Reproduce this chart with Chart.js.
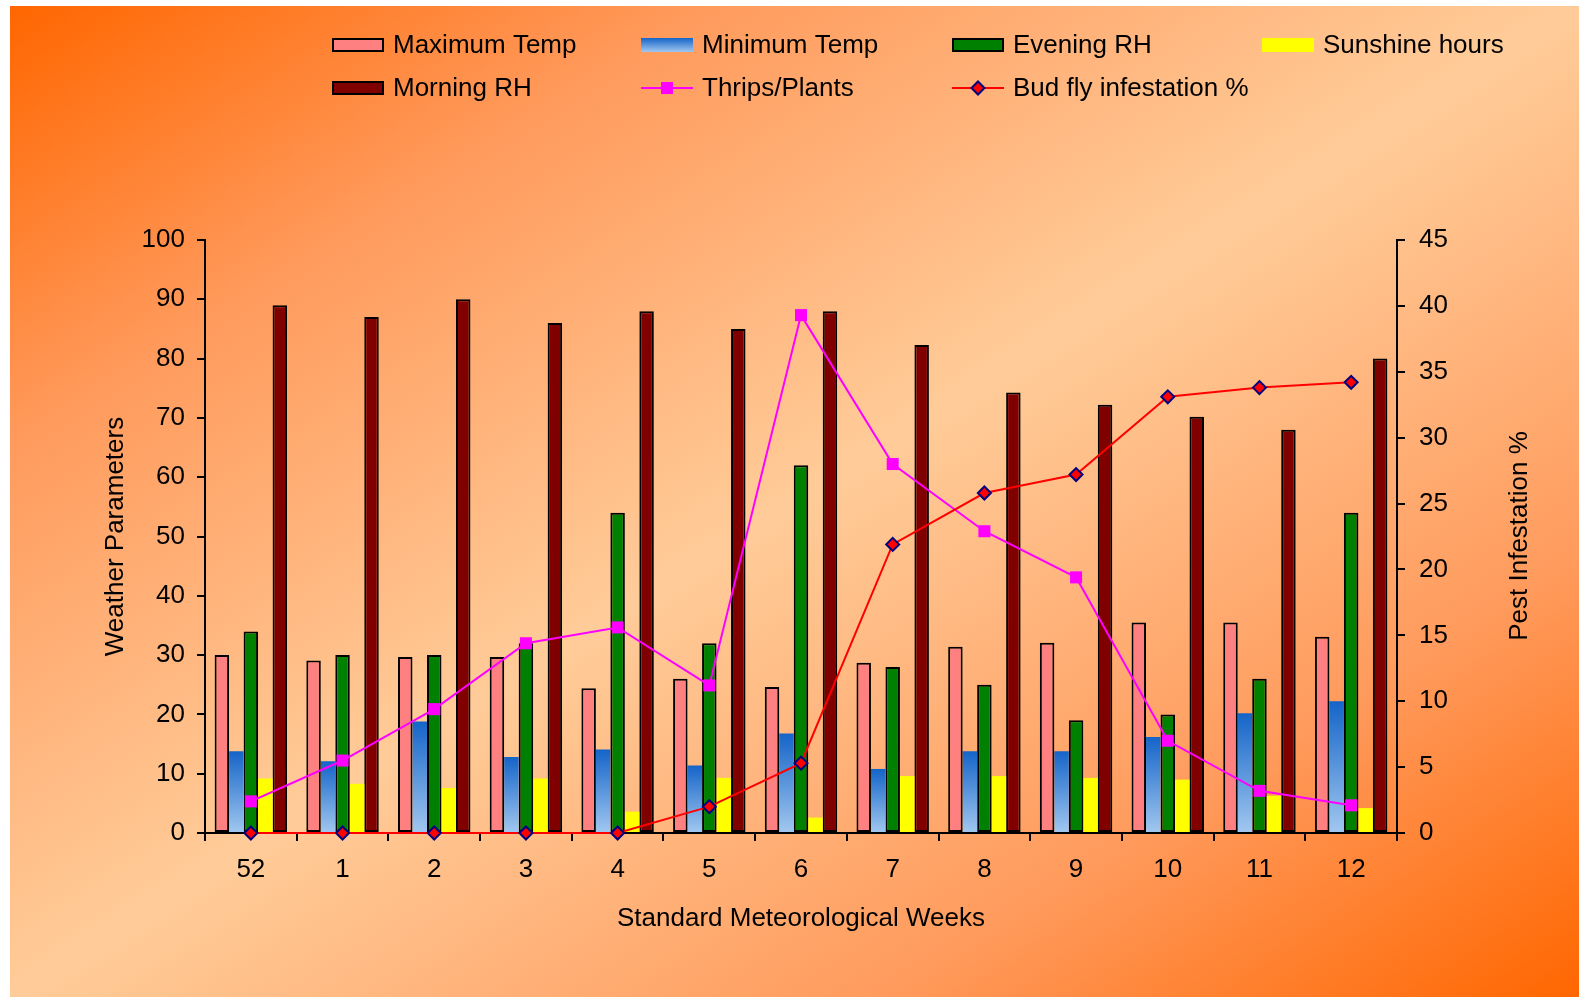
<!DOCTYPE html>
<html>
<head>
<meta charset="utf-8">
<script src="https://cdn.jsdelivr.net/npm/chart.js@4/dist/chart.umd.min.js"></script>
<style>
  html, body { margin: 0; padding: 0; background: #ffffff; }
  #wrap { position: relative; width: 1579px; height: 997px; }
</style>
</head>
<body>
<div id="wrap"><canvas id="c" width="1579" height="997"></canvas></div>
<script>
// Standard meteorological weeks
const weeks = ['52', '1', '2', '3', '4', '5', '6', '7', '8', '9', '10', '11', '12'];

// Weather parameters (left axis)
const maxTemp   = [30.0, 29.1, 29.7, 29.7, 24.4, 26.0, 24.6, 28.7, 31.4, 32.1, 35.5, 35.5, 33.1];
const minTemp   = [13.8, 12.1, 18.8, 12.8, 14.1, 11.4, 16.8, 10.8, 13.8, 13.8, 16.2, 20.2, 22.2];
const eveningRH = [34, 30, 30, 32, 54, 32, 62, 28, 25, 19, 20, 26, 54];
const sunshine  = [9.2, 8.3, 7.6, 9.2, 3.6, 9.3, 2.6, 9.6, 9.6, 9.3, 9.0, 6.3, 4.2];
const morningRH = [89, 87, 90, 86, 88, 85, 88, 82.3, 74.3, 72.2, 70.2, 68, 80];

// Pest infestation (right axis)
const thrips = [2.4, 5.5, 9.4, 14.4, 15.6, 11.2, 39.3, 28.0, 22.9, 19.4, 7.0, 3.2, 2.1];
const budFly = [0, 0, 0, 0, 0, 2.0, 5.3, 21.9, 25.8, 27.2, 33.1, 33.8, 34.2];

// Axis tick settings
const leftTicks  = { min: 0, max: 100, step: 10 };
const rightTicks = { min: 0, max: 45, step: 5 };

const FONT = '"Liberation Sans", Arial, sans-serif';
const FSIZE = 26;
const BLUE_TOP = '#1464c8';
const BLUE_BOTTOM = '#a2c8f0';

// vertical blue gradient for each minimum-temperature bar
function blueBar(ctx) {
  const chart = ctx.chart;
  if (!chart.chartArea || ctx.type !== 'data') return BLUE_TOP;
  const ys = chart.scales.y;
  const top = ys.getPixelForValue(ctx.raw);
  const bottom = ys.getPixelForValue(0);
  if (!isFinite(top) || bottom - top < 1) return BLUE_TOP;
  const g = chart.ctx.createLinearGradient(0, top, 0, bottom);
  g.addColorStop(0, BLUE_TOP);
  g.addColorStop(1, BLUE_BOTTOM);
  return g;
}

// page background: diagonal orange / peach fill
const backdrop = {
  id: 'backdrop',
  beforeDraw(chart) {
    const c = chart.ctx;
    const x0 = 10, y0 = 6, W = 1569, H = 991;
    const k = 2 * W * H / (W * W + H * H);
    const g = c.createLinearGradient(x0, y0, x0 + H * k, y0 + W * k);
    g.addColorStop(0, '#ff6600');
    g.addColorStop(0.22, '#ff9a5c');
    g.addColorStop(0.5, '#ffcc99');
    g.addColorStop(0.78, '#ff9a5c');
    g.addColorStop(1, '#ff6600');
    c.save();
    c.fillStyle = g;
    c.fillRect(x0, y0, W, H);
    c.restore();
  }
};

// legend in four aligned columns, right axis title
const sideText = {
  id: 'sideText',
  afterDraw(chart) {
    const c = chart.ctx;
    const ds = chart.data.datasets;
    const colX = [332, 641, 952, 1262];
    const rowY = [45, 88];
    c.save();
    c.font = FSIZE + 'px ' + FONT;
    c.textBaseline = 'middle';
    c.textAlign = 'left';
    ds.forEach((d, i) => {
      const x = colX[i % 4];
      const y = rowY[Math.floor(i / 4)];
      if (d.type === 'line') {
        c.strokeStyle = d.borderColor;
        c.lineWidth = 2;
        c.beginPath();
        c.moveTo(x, y); c.lineTo(x + 52, y);
        c.stroke();
        c.fillStyle = d.pointBackgroundColor;
        c.strokeStyle = d.pointBorderColor;
        c.lineWidth = d.pointBorderWidth;
        c.beginPath();
        if (d.pointStyle === 'rect') {
          const s = Math.SQRT1_2 * d.pointRadius;
          c.rect(x + 26 - s, y - s, 2 * s, 2 * s);
          c.fill();
        } else {
          const r = d.pointRadius;
          c.moveTo(x + 26, y - r); c.lineTo(x + 26 + r, y);
          c.lineTo(x + 26, y + r); c.lineTo(x + 26 - r, y);
          c.closePath();
          c.fill(); c.stroke();
        }
      } else {
        if (d.label === 'Minimum Temp') {
          const g = c.createLinearGradient(0, y - 7, 0, y + 7);
          g.addColorStop(0, BLUE_TOP); g.addColorStop(1, BLUE_BOTTOM);
          c.fillStyle = g;
        } else {
          c.fillStyle = d.backgroundColor;
        }
        c.fillRect(x, y - 7, 52, 14);
        if (d.borderWidth) {
          c.strokeStyle = '#000';
          c.lineWidth = 2;
          c.strokeRect(x + 1, y - 6, 50, 12);
        }
      }
      c.fillStyle = '#000';
      c.fillText(d.label, x + 61, y + 1);
    });
    // right axis title
    c.translate(1520, 536);
    c.rotate(-Math.PI / 2);
    c.textAlign = 'center';
    c.fillText('Pest Infestation %', 0, 0);
    c.restore();
  }
};

const barCommon = { type: 'bar', yAxisID: 'y', order: 2, borderSkipped: false };

new Chart(document.getElementById('c'), {
  data: {
    labels: weeks,
    datasets: [
      Object.assign({ label: 'Maximum Temp', data: maxTemp, backgroundColor: '#ff8080', borderColor: '#000', borderWidth: 2 }, barCommon),
      Object.assign({ label: 'Minimum Temp', data: minTemp, backgroundColor: blueBar, borderWidth: 0 }, barCommon),
      Object.assign({ label: 'Evening RH', data: eveningRH, backgroundColor: '#008000', borderColor: '#000', borderWidth: 2 }, barCommon),
      Object.assign({ label: 'Sunshine hours', data: sunshine, backgroundColor: '#ffff00', borderWidth: 0 }, barCommon),
      Object.assign({ label: 'Morning RH', data: morningRH, backgroundColor: '#800000', borderColor: '#000', borderWidth: 2 }, barCommon),
      {
        type: 'line', label: 'Thrips/Plants', data: thrips, yAxisID: 'y1', order: 1,
        borderColor: '#ff00ff', borderWidth: 2, tension: 0, clip: false,
        pointStyle: 'rect', pointRadius: 8.5, pointBackgroundColor: '#ff00ff',
        pointBorderColor: '#ff00ff', pointBorderWidth: 0
      },
      {
        type: 'line', label: 'Bud fly infestation %', data: budFly, yAxisID: 'y1', order: 0,
        borderColor: '#ff0000', borderWidth: 2, tension: 0, clip: false,
        pointStyle: 'rectRot', pointRadius: 6.5, pointBackgroundColor: '#ff0000',
        pointBorderColor: '#000080', pointBorderWidth: 2
      }
    ]
  },
  options: {
    responsive: false,
    animation: false,
    events: [],
    layout: { padding: { top: 240, left: 0, right: 0, bottom: 0 } },
    datasets: { bar: { categoryPercentage: 0.79, barPercentage: 1.0 } },
    plugins: { legend: { display: false }, tooltip: { enabled: false } },
    scales: {
      x: {
        grid: { offset: true, drawOnChartArea: false, color: '#000', lineWidth: 2, tickLength: 8 },
        border: { color: '#000', width: 2 },
        ticks: { color: '#000', font: { family: FONT, size: FSIZE }, padding: 13, maxRotation: 0 },
        title: { display: true, text: 'Standard Meteorological Weeks', color: '#000',
                 font: { family: FONT, size: FSIZE }, padding: { top: 0, bottom: 63 } },
        afterFit(s) { s.height = 164; }
      },
      y: {
        position: 'left', min: leftTicks.min, max: leftTicks.max,
        grid: { drawOnChartArea: false, color: '#000', lineWidth: 2, tickLength: 8 },
        border: { color: '#000', width: 2 },
        ticks: { stepSize: leftTicks.step, color: '#000', font: { family: FONT, size: FSIZE }, padding: 12 },
        title: { display: true, text: 'Weather Parameters', color: '#000',
                 font: { family: FONT, size: FSIZE }, padding: { top: 100, bottom: 0 } },
        afterFit(s) { s.width = 205; }
      },
      y1: {
        position: 'right', min: rightTicks.min, max: rightTicks.max,
        grid: { drawOnChartArea: false, color: '#000', lineWidth: 2, tickLength: 8 },
        border: { color: '#000', width: 2 },
        ticks: { stepSize: rightTicks.step, color: '#000', font: { family: FONT, size: FSIZE }, padding: 14 },
        afterFit(s) { s.width = 182; }
      }
    }
  },
  plugins: [backdrop, sideText]
});
</script>
</body>
</html>
